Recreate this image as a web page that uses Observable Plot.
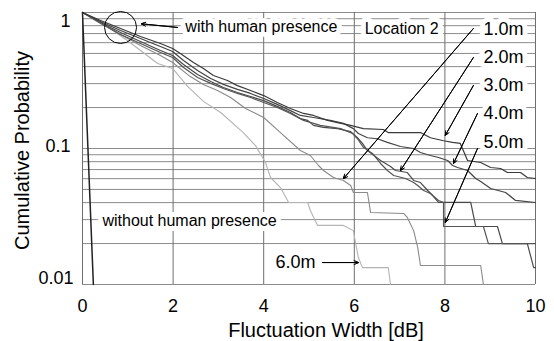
<!DOCTYPE html>
<html>
<head>
<meta charset="utf-8">
<script src="https://cdn.jsdelivr.net/npm/d3@7"></script>
<script src="https://cdn.jsdelivr.net/npm/@observablehq/plot@0.6"></script>
<style>
  html, body { margin: 0; padding: 0; background: #fff; }
  svg { display: block; }
</style>
</head>
<body>
<div id="chart"></div>
<script>
// Axis ticks and grid values
const xTicks = [0, 2, 4, 6, 8, 10];
const yGrid = [0.01,0.02,0.03,0.04,0.05,0.06,0.07,0.08,0.09,0.1,0.2,0.3,0.4,0.5,0.6,0.7,0.8,0.9,1];

// Series: with human presence (distance 1.0m - 6.0m) and without
const x1m = [0,.40,.84,1.28,1.72,1.99,2.38,2.67,2.98,3.27,3.60,4.00,4.37,4.81,5.03,5.21,5.32,5.54,5.76,5.92,5.98,6.29,6.36,7.09,7.17,7.31,7.40,7.46,8.79,8.85];
const p1m = [1,.844,.689,.572,.483,.429,.338,.296,.267,.237,.197,.169,.131,.0967,.0888,.075,.0689,.0612,.0582,.0534,.0475,.0475,.0338,.0333,.0311,.0249,.0187,.0138,.0138,.01];

const x2m = [0,.40,.84,1.28,1.72,1.99,2.23,2.54,2.83,3.11,3.42,3.71,4.00,4.30,4.59,4.81,4.97,5.10,5.32,5.63,5.92,6.07,6.18,6.29,6.58,6.80,6.91,7.17,7.31,7.46,7.62,7.73,7.86,8.57,8.68,9.16,9.27,9.82,9.96,10];
const p2m = [1,.844,.713,.612,.526,.483,.415,.350,.311,.281,.258,.241,.225,.204,.184,.166,.161,.148,.143,.140,.133,.120,.109,.0967,.0816,.0737,.0689,.0666,.0582,.0562,.0491,.0451,.0401,.0401,.0267,.0267,.0200,.0200,.0133,.0133];

const x3m = [0,.40,.84,1.28,1.72,1.99,2.16,2.45,2.67,2.89,3.20,3.42,3.71,4.00,4.30,4.59,4.88,5.10,5.41,5.63,5.92,6.09,6.20,6.64,6.75,7.46,7.68,7.97,8.17,8.34,8.50,8.79,9.01,9.23,9.38,9.67,9.82,10];
const p3m = [1,.873,.763,.666,.592,.543,.499,.429,.388,.344,.316,.290,.267,.245,.218,.197,.181,.175,.161,.155,.148,.143,.140,.138,.131,.131,.120,.114,.111,.109,.0816,.0789,.0725,.0713,.0666,.0666,.0612,.0602];

const x4m = [0,.40,.84,1.28,1.72,1.99,2.23,2.54,2.83,3.11,3.42,3.71,4.00,4.30,4.59,4.81,5.10,5.47,5.76,5.98,6.09,6.29,6.51,6.73,7.02,7.31,7.46,7.68,7.86,8.06,8.17,8.28,8.50,8.68,8.79,9.01,9.34,9.56,10];
const p4m = [1,.859,.737,.644,.562,.517,.444,.375,.327,.296,.272,.254,.233,.211,.190,.175,.169,.161,.153,.140,.129,.120,.118,.111,.1035,.1,.0935,.0888,.0859,.0816,.075,.0725,.0689,.0602,.0572,.0508,.0475,.0415,.0401];

const x5m = [0,.40,.84,1.28,1.72,1.99,2.23,2.54,2.83,3.11,3.42,3.71,4.00,4.30,4.59,4.88,5.25,5.70,5.96,6.07,6.20,6.40,6.58,6.73,6.87,7.13,7.31,7.40,7.53,7.68,7.86,7.97,7.97,8.85,8.96,10];
const p5m = [1,.830,.689,.592,.508,.467,.394,.333,.301,.276,.254,.237,.218,.200,.181,.161,.148,.140,.129,.118,.102,.0919,.0776,.0689,.0633,.0602,.0562,.0534,.0491,.0467,.0415,.0401,.0267,.0267,.0200,.0200];

const x6m = [0,.51,.99,1.66,1.99,2.32,2.67,3.05,3.55,3.82,4.04,4.15,4.37,4.55,4.97,5.03,5.19,5.76,5.98,6.03,6.09,6.18,6.75,6.80];
const p6m = [1,.802,.622,.422,.388,.286,.222,.184,.131,.105,.0789,.0612,.0516,.0401,.0401,.035,.0272,.0272,.0249,.02,.0158,.0133,.0133,.01];

const xNone = [0, 0.24];
const pNone = [1, 0.01];

// Annotations
const labelText = ["with human presence", "Location 2", "without human presence", "1.0m", "2.0m", "3.0m", "4.0m", "5.0m", "6.0m"];
const labelX    = [2.27, 6.23, 0.44, 8.85, 8.85, 8.85, 8.85, 8.85, 4.26];
const labelP    = [0.789, 0.763, 0.0296, 0.755, 0.467, 0.290, 0.181, 0.111, 0.0145];
const labelSize = [16, 16, 16, 18, 18, 18, 18, 18, 18];

const arrowX1 = [2.10, 8.63, 8.63, 8.63, 8.72, 8.72, 5.30];
const arrowP1 = [0.776, 0.763, 0.467, 0.291, 0.181, 0.100, 0.0145];
const arrowX2 = [1.30, 5.76, 7.02, 8.01, 8.19, 8.01, 6.09];
const arrowP2 = [0.826, 0.0601, 0.0689, 0.125, 0.0776, 0.0286, 0.0145];

const circleX = [0.84];
const circleP = [0.776];

// Build tables
const mk = (xs, ps, name) => xs.map((x, i) => ({x, p: ps[i], s: name}));
const curves = [
  {name: "6.0m", data: mk(x6m, p6m, "6.0m"), color: "#b4b4b4", w: 1.1},
  {name: "1.0m", data: mk(x1m, p1m, "1.0m"), color: "#8a8a8a", w: 1.1},
  {name: "2.0m", data: mk(x2m, p2m, "2.0m"), color: "#4a4a4a", w: 1.2},
  {name: "5.0m", data: mk(x5m, p5m, "5.0m"), color: "#555555", w: 1.2},
  {name: "4.0m", data: mk(x4m, p4m, "4.0m"), color: "#444444", w: 1.2},
  {name: "3.0m", data: mk(x3m, p3m, "3.0m"), color: "#3a3a3a", w: 1.2},
  {name: "none", data: mk(xNone, pNone, "none"), color: "#222222", w: 1.5}
];
const labels = labelText.map((t, i) => ({t, x: labelX[i], p: labelP[i], f: labelSize[i]}));
const arrows = arrowX1.map((x1, i) => ({x1, y1: arrowP1[i], x2: arrowX2[i], y2: arrowP2[i]}));
const circles = circleX.map((x, i) => ({x, p: circleP[i]}));

const font = "'Liberation Sans', Arial, Helvetica, sans-serif";

const chart = Plot.plot({
  width: 554,
  height: 341,
  marginLeft: 82,
  marginRight: 19,
  marginTop: 12,
  marginBottom: 57,
  style: {fontFamily: font, background: "#fff", color: "#000"},
  x: {domain: [0, 10], axis: null},
  y: {type: "log", domain: [0.01, 1], axis: null},
  marks: [
    Plot.ruleY(yGrid, {stroke: "#8c8c8c", strokeWidth: 1}),
    Plot.ruleX(xTicks, {stroke: "#6e6e6e", strokeWidth: 1}),
    ...labels.filter(d => d.f === 16).map(d => Plot.text([d], {x: "x", y: "p", text: "t", textAnchor: "start", fontSize: 16, fill: "#000", stroke: "#fff", strokeWidth: 10, fontFamily: font})),
    ...labels.filter(d => d.f === 18).map(d => Plot.text([d], {x: "x", y: "p", text: "t", textAnchor: "start", fontSize: 18, fill: "#000", stroke: "#fff", strokeWidth: 10, fontFamily: font})),
    ...curves.map(c => Plot.line(c.data, {x: "x", y: "p", stroke: c.color, strokeWidth: c.w})),
    Plot.arrow(arrows, {x1: "x1", y1: "y1", x2: "x2", y2: "y2", stroke: "#000", strokeWidth: 1, headLength: 7, headAngle: 50}),
    Plot.arrow(arrows, {x1: "x1", y1: "y1", x2: "x2", y2: "y2", stroke: "#000", strokeWidth: 1, headLength: 4, headAngle: 50}),
    Plot.dot(circles, {x: "x", y: "p", r: 16, stroke: "#000", fill: "none", strokeWidth: 1}),
    Plot.axisX(xTicks, {tickSize: 0, tickPadding: 15, fontSize: 18, label: null, fontFamily: font}),
    Plot.axisY([1], {tickSize: 0, tickPadding: 12, fontSize: 18, dy: 9, label: null, tickFormat: d => String(d)}),
    Plot.axisY([0.1], {tickSize: 0, tickPadding: 12, fontSize: 18, dy: -2, label: null, tickFormat: d => String(d)}),
    Plot.axisY([0.01], {tickSize: 0, tickPadding: 9, fontSize: 18, dy: -6, label: null, tickFormat: d => String(d)}),
    Plot.text(["Fluctuation Width [dB]"], {frameAnchor: "bottom", lineAnchor: "middle", textAnchor: "middle", dy: 46, dx: 17, fontSize: 20, fill: "#000", fontFamily: font}),
    Plot.text(["Cumulative Probability"], {frameAnchor: "left", textAnchor: "middle", lineAnchor: "middle", rotate: -90, dx: -60, dy: 2, fontSize: 20, fill: "#000", fontFamily: font})
  ]
});
document.getElementById("chart").appendChild(chart);
</script>
</body>
</html>
